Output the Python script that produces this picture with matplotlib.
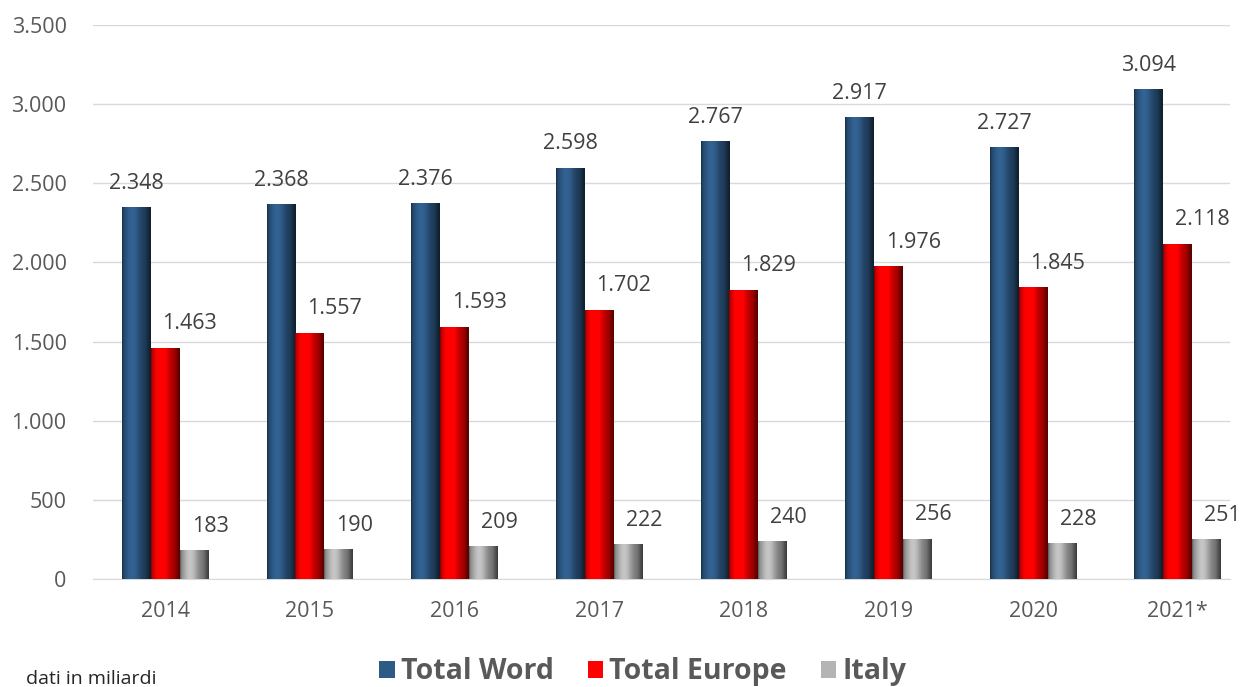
import matplotlib.pyplot as plt
import numpy as np
from matplotlib.patches import Patch
from matplotlib.colors import to_rgb

plt.rcParams['font.family'] = ['Open Sans', 'DejaVu Sans']

years = ['2014', '2015', '2016', '2017', '2018', '2019', '2020', '2021*']
world = [2348, 2368, 2376, 2598, 2767, 2917, 2727, 3094]
europe = [1463, 1557, 1593, 1702, 1829, 1976, 1845, 2118]
italy = [183, 190, 209, 222, 240, 256, 228, 251]

# name, values, colour, label shift
series = [('Total Word', world, '#2E5A86', 0.0),
          ('Total Europe', europe, '#FF0000', 0.17),
          ('Italy', italy, '#B4B4B4', 0.11)]


def fmt(v):
    return '{:,}'.format(v).replace(',', '.')


def shade(color, n=60):
    # cylinder-like horizontal shading
    base = np.array(to_rgb(color))
    t = np.linspace(0, 1, n)
    k = 0.6 + 0.5 * np.exp(-((t - 0.35) / 0.3) ** 2)
    k[-int(n * 0.2):] *= np.linspace(1, 0.55, int(n * 0.2))
    k[:int(n * 0.08)] *= np.linspace(0.7, 1, int(n * 0.08))
    rgb = np.clip(base[None, :] * k[:, None], 0, 1)
    return rgb[None, :, :]


fig = plt.figure(figsize=(12.43, 6.87), dpi=100)
ax = fig.add_axes([0.0748, 0.157, 0.9147, 0.8066])

x = np.arange(len(years))
w = 0.2
for i, (name, vals, col, off) in enumerate(series):
    pos = x + (i - 1) * w
    bars = ax.bar(pos, vals, width=w, color=col, zorder=3, linewidth=0)
    for b, v in zip(bars, vals):
        bx, bw, bh = b.get_x(), b.get_width(), b.get_height()
        im = ax.imshow(shade(col), extent=[bx, bx + bw, 0, bh], aspect='auto',
                       zorder=4, interpolation='bilinear')
        im.set_clip_path(b)
        ax.text(bx + bw / 2 + off, bh + 85, fmt(v), ha='center', va='bottom',
                fontsize=15.5, color='#404040', zorder=5)

ax.set_xlim(-0.5, 7.36)
ax.set_ylim(0, 3500)
ax.set_yticks(np.arange(0, 3501, 500))
ax.set_yticklabels([fmt(v) for v in range(0, 3501, 500)])
ax.set_xticks(x)
ax.set_xticklabels(years)
ax.tick_params(axis='both', length=0, labelsize=15.5, colors='#595959')
ax.tick_params(axis='x', pad=16)
ax.tick_params(axis='y', pad=19)
ax.grid(axis='y', color='#D9D9D9', linewidth=1, zorder=0)
for s in ['top', 'right', 'left']:
    ax.spines[s].set_visible(False)
ax.spines['bottom'].set_color('#D9D9D9')

handles = [Patch(facecolor=c, edgecolor='none', label=n) for n, _, c, _ in series]
leg = fig.legend(handles=handles, loc='center', bbox_to_anchor=(0.517, 0.022), ncol=3,
                 frameon=False, handlelength=0.55, handleheight=0.55, handletextpad=0.2,
                 columnspacing=1.2,
                 prop={'weight': 'bold', 'size': 20.5})
for t in leg.get_texts():
    t.set_color('#595959')

fig.text(0.021, 0.0045, 'dati in miliardi', fontsize=14, color='#262626', ha='left', va='baseline')

fig.savefig('out.png', dpi=100)
